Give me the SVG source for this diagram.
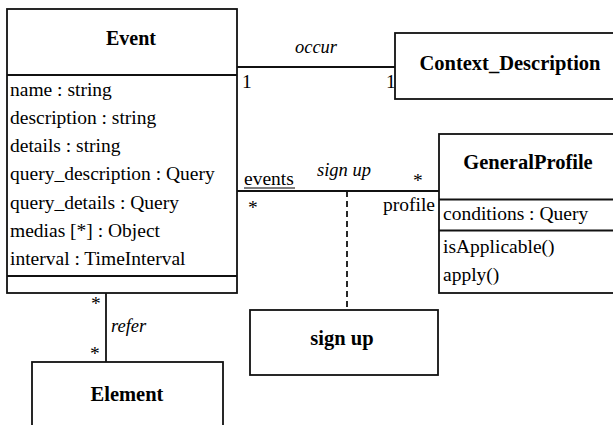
<svg xmlns="http://www.w3.org/2000/svg" width="613" height="425" viewBox="0 0 613 425">
<rect width="613" height="425" fill="#fff"/>
<g id="connectors" stroke="#111" stroke-width="1.8" fill="none">
<line x1="237" y1="67" x2="395" y2="67"/>
<line x1="237" y1="191" x2="439" y2="191"/>
<line x1="347" y1="191" x2="347" y2="310" stroke-dasharray="6 4"/>
<line x1="106" y1="293" x2="106" y2="362"/>
<line x1="244" y1="188" x2="295" y2="188" stroke="#000" stroke-width="1.2"/>
</g>
<g id="labels" fill="#000" stroke="none">
<text font-family="Liberation Serif" font-size="18.5" font-style="italic" x="316" y="53" text-anchor="middle">occur</text>
<text font-family="Liberation Serif" font-size="19.5" x="242" y="88">1</text>
<text font-family="Liberation Serif" font-size="19.5" x="386" y="88">1</text>
<text font-family="Liberation Serif" font-size="19.5" x="244" y="185">events</text>
<text font-family="Liberation Serif" font-size="18.5" font-style="italic" x="317" y="176">sign up</text>
<text font-family="Liberation Serif" font-size="19.5" x="413" y="187">*</text>
<text font-family="Liberation Serif" font-size="19.5" x="248" y="214">*</text>
<text font-family="Liberation Serif" font-size="19.5" x="383" y="211">profile</text>
<text font-family="Liberation Serif" font-size="19.5" x="91" y="310">*</text>
<text font-family="Liberation Serif" font-size="18.5" font-style="italic" x="111" y="332">refer</text>
<text font-family="Liberation Serif" font-size="19.5" x="90" y="360">*</text>
</g>
<g id="Event">
<rect x="7" y="9" width="230" height="284" fill="#fff" stroke="#111" stroke-width="1.8"/>
<line x1="7" y1="75" x2="237" y2="75" stroke="#111" stroke-width="1.8"/>
<line x1="7" y1="276" x2="237" y2="276" stroke="#111" stroke-width="1.8"/>
<text font-family="Liberation Serif" font-size="20" font-weight="bold" text-anchor="middle" x="131" y="45">Event</text>
<text font-family="Liberation Serif" font-size="19.5" x="10" y="96">name : string</text>
<text font-family="Liberation Serif" font-size="19.5" x="10" y="124">description : string</text>
<text font-family="Liberation Serif" font-size="19.5" x="10" y="152">details : string</text>
<text font-family="Liberation Serif" font-size="19.5" x="10" y="180">query_description : Query</text>
<text font-family="Liberation Serif" font-size="19.5" x="10" y="208.5">query_details : Query</text>
<text font-family="Liberation Serif" font-size="19.5" x="10" y="236.5">medias [*] : Object</text>
<text font-family="Liberation Serif" font-size="19.5" x="10" y="265">interval : TimeInterval</text>
</g>
<g id="Context_Description">
<rect x="395" y="33" width="230" height="66" fill="#fff" stroke="#111" stroke-width="1.8"/>
<text font-family="Liberation Serif" font-size="20.5" font-weight="bold" text-anchor="middle" x="510" y="70">Context_Description</text>
</g>
<g id="GeneralProfile">
<rect x="439" y="134" width="190" height="159" fill="#fff" stroke="#111" stroke-width="1.8"/>
<line x1="439" y1="199.5" x2="629" y2="199.5" stroke="#111" stroke-width="1.8"/>
<line x1="439" y1="230.5" x2="629" y2="230.5" stroke="#111" stroke-width="1.8"/>
<text font-family="Liberation Serif" font-size="20.5" font-weight="bold" text-anchor="middle" x="528" y="169">GeneralProfile</text>
<text font-family="Liberation Serif" font-size="19.5" x="443" y="220">conditions : Query</text>
<text font-family="Liberation Serif" font-size="19.5" x="443" y="252.5">isApplicable()</text>
<text font-family="Liberation Serif" font-size="19.5" x="443" y="280.5">apply()</text>
</g>
<g id="sign_up">
<rect x="250" y="310" width="188" height="65" fill="#fff" stroke="#111" stroke-width="1.8"/>
<text font-family="Liberation Serif" font-size="20.5" font-weight="bold" text-anchor="middle" x="342" y="345">sign up</text>
</g>
<g id="Element">
<rect x="32" y="362" width="191" height="80" fill="#fff" stroke="#111" stroke-width="1.8"/>
<text font-family="Liberation Serif" font-size="20.5" font-weight="bold" text-anchor="middle" x="127" y="401">Element</text>
</g>
</svg>
